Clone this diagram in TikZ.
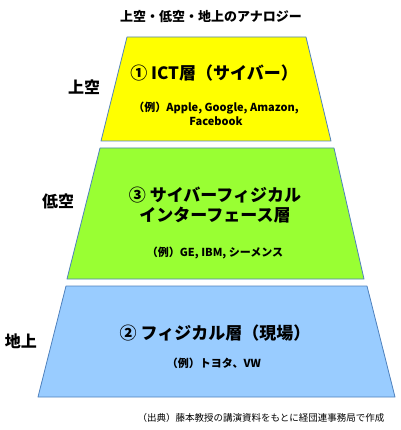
\documentclass[tikz,border=0pt]{standalone}
\usepackage{fontspec}
\setmainfont{Noto Sans CJK JP}
\usetikzlibrary{positioning}

\definecolor{skyyellow}{HTML}{FFFF00}
\definecolor{lowgreen}{HTML}{99FF33}
\definecolor{groundblue}{HTML}{99CCFF}
\definecolor{layerline}{HTML}{4F81BD}

\tikzset{
  layer/.style={draw=layerline, line width=0.8pt, line join=round},
  bigtext/.style={font=\fontsize{17}{20}\selectfont\bfseries, align=center},
  egtext/.style={font=\fontsize{11}{14}\selectfont\bfseries, align=center},
  sidetext/.style={font=\fontsize{16}{18}\selectfont\bfseries}
}

\begin{document}
\begin{tikzpicture}[x=1pt, y=-1pt, line cap=round]
    \useasboundingbox (0,0) rectangle (400,430);
    \node[font=\fontsize{13}{15}\selectfont\bfseries] (title) at (211, 17) {上空・低空・地上のアナロジー};
    \draw[layer, fill=skyyellow] (127,37) -- (306,37) -- (331,141) -- (101,141) -- cycle;
    \node[bigtext] (cyber) at (214, 73) {① ICT層（サイバー）};
    \node[egtext] (cybereg) at (216, 114) {（例）Apple, Google, Amazon,\\Facebook};
    \node[sidetext] (sky) at (84, 87) {上空};
    \draw[layer, fill=lowgreen] (100,148) -- (334,148) -- (364,279) -- (67,279) -- cycle;
    \node[bigtext] (cps) at (215, 205) {③ サイバーフィジカル\\インターフェース層};
    \node[egtext] (cpseg) at (215, 253) {（例）GE, IBM, シーメンス};
    \node[sidetext] (low) at (58, 201) {低空};
    \draw[layer, fill=groundblue] (66,286) -- (367,286) -- (395,397) -- (38,397) -- cycle;
    \node[bigtext] (phys) at (215, 333) {② フィジカル層（現場）};
    \node[egtext] (physeg) at (214, 363) {（例）トヨタ、VW};
    \node[sidetext] (ground) at (21, 341) {地上};
    \node[font=\fontsize{9.5}{11}\selectfont, anchor=east] (source) at (388, 418) {（出典）藤本教授の講演資料をもとに経団連事務局で作成};
  \end{tikzpicture}
\end{document}
